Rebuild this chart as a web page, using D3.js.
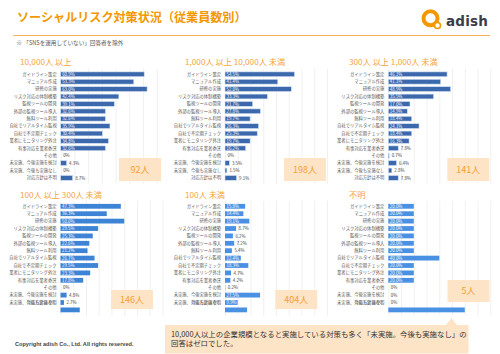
<!DOCTYPE html>
<html>
<head>
<meta charset="utf-8">
<script src="https://cdn.jsdelivr.net/npm/d3@7"></script>
<style>
  body { margin: 0; background: #fff; }
  svg { font-family: "Noto Sans CJK JP", "Noto Sans", sans-serif; display: block; }
</style>
</head>
<body>
<svg id="chart"></svg>
<script>
// Data
const categories = ["ガイドライン策定", "マニュアル作成", "研修の実施", "リスク対応の体制構築",
  "監視ツールの開発", "外部の監視ツール導入", "無料ツール利用", "自社でリアルタイム監視",
  "自社で不定期チェック", "業者にモニタリング外注", "有事対応を業者委託", "その他",
  "未実施、今後実施を検討", "未実施、今後も実施なし", "対応方針は不明"];

const panelTitles = ["10,000人 以上", "1,000人 以上 10,000人 未満", "300人 以上 1,000人 未満",
  "100人 以上 300人 未満", "100人 未満", "不明"];
const respondents = ["92人", "198人", "141人", "146人", "404人", "5人"];

const v10000 = [60.9, 53.3, 63.0, 42.4, 39.1, 32.6, 32.6, 35.9, 30.4, 34.8, 32.6, 0, 4.3, 0, 8.7];
const v1000 = [54.5, 41.4, 52.0, 33.3, 21.7, 27.8, 19.7, 26.3, 25.3, 19.7, 16.2, 0, 3.5, 1.5, 9.1];
const v300 = [46.1, 41.1, 48.9, 35.5, 17.0, 14.9, 18.4, 24.1, 18.4, 16.3, 7.8, 0.7, 6.4, 2.8, 7.8];
const v100 = [47.3, 36.3, 50.0, 29.5, 25.3, 22.6, 21.2, 26.7, 29.5, 23.3, 17.8, 0, 4.8, 2.7, 15.1];
const vUnder100 = [15.8, 14.4, 19.1, 8.7, 6.2, 7.2, 5.4, 12.4, 18.3, 4.7, 4.2, 0.2, 27.5, 9.9, 17.3];
const vUnknown = [20, 20, 20, 20, 20, 20, 20, 40, 20, 20, 20, 0, 0, 0, 60];

const axisMax = [70, 80, 80, 80, 80, 80];

const orange = "#f39800";
const W = 500, H = 354;

const svg = d3.select("#chart").attr("width", W).attr("height", H);

// Header
svg.append("text").attr("x", 17).attr("y", 22)
  .attr("font-size", 12.1).attr("font-weight", "bold").attr("fill", orange)
  .text("ソーシャルリスク対策状況（従業員数別）");

svg.append("line").attr("x1", 13).attr("x2", 490).attr("y1", 35.5).attr("y2", 35.5)
  .attr("stroke", "#f7b35c").attr("stroke-width", 1);

svg.append("text").attr("x", 16.5).attr("y", 45)
  .attr("font-size", 5.6).attr("fill", "#555")
  .text("※ 「SNSを運用していない」回答者を除外");

// logo
const logo = svg.append("g");
logo.append("circle").attr("cx", 430.5).attr("cy", 18.3).attr("r", 7)
  .attr("fill", "none").attr("stroke", orange).attr("stroke-width", 4);
logo.append("circle").attr("cx", 437.5).attr("cy", 25.5).attr("r", 3)
  .attr("fill", "#fff").attr("stroke", orange).attr("stroke-width", 1.6);
logo.append("text").attr("x", 446).attr("y", 25.5)
  .attr("font-size", 13.5).attr("font-weight", "bold").attr("fill", "#3d3d4a")
  .attr("font-family", "DejaVu Sans, sans-serif").attr("letter-spacing", 0.2)
  .text("adish");

// Panels
const panels = [
  {values: v10000, ax: 60.7, w: 96, top: 70.6, titleX: 20, titleY: 64.5, box: [119, 158, 42, 23], bottom: false, color: "#3c68ad"},
  {values: v1000, ax: 225, w: 102, top: 70.6, titleX: 185, titleY: 64.5, box: [284, 158, 42, 23], bottom: false, color: "#3c68ad"},
  {values: v300, ax: 388.3, w: 102, top: 70.6, titleX: 349, titleY: 64.5, box: [447.3, 158, 42, 23], bottom: false, color: "#3c68ad"},
  {values: v100, ax: 60.5, w: 102, top: 202.6, titleX: 20, titleY: 197.5, box: [111, 290, 42, 19], bottom: true, color: "#3e84d6"},
  {values: vUnder100, ax: 225, w: 102, top: 202.6, titleX: 185, titleY: 197.5, box: [275.3, 290, 42, 19], bottom: true, color: "#4a91e4"},
  {values: vUnknown, ax: 388.3, w: 102, top: 202.6, titleX: 349, titleY: 197.5, box: [447.5, 280, 42, 22], bottom: true, color: "#4a91e4"}
];

const fmt = v => v === 0 ? "0%" : d3.format(".1f")(v) + "%";

panels.forEach((p, i) => {
  const g = svg.append("g");
  const x = d3.scaleLinear().domain([0, axisMax[i]]).range([p.ax, p.ax + p.w]);
  const y = d3.scaleBand().domain(categories).range([p.top, p.top + 15 * 7.4]).paddingInner(0.35).paddingOuter(0.175);
  const data = categories.map((c, k) => ({name: c, value: p.values[k], idx: k}));

  // title
  g.append("text").attr("x", p.titleX).attr("y", p.titleY)
    .attr("font-size", 8.2).attr("fill", "#f5a43c").text(panelTitles[i]);

  // gridlines
  const grid = g.append("g")
    .attr("transform", `translate(0,${p.top + 15 * 7.4 + 2})`)
    .call(d3.axisBottom(x).tickValues(d3.range(0, axisMax[i] + 1, 10))
      .tickSize(-(15 * 7.4 + 4)).tickFormat(""));
  grid.select(".domain").remove();
  grid.selectAll("line").attr("stroke", "#e6e6e6").attr("stroke-width", 0.6);

  // respondent box
  g.append("rect").attr("x", p.box[0]).attr("y", p.box[1])
    .attr("width", p.box[2]).attr("height", p.box[3]).attr("fill", "#fde4c6");
  g.append("text").attr("x", p.box[0] + p.box[2] / 2).attr("y", p.box[1] + p.box[3] / 2 + 3.2)
    .attr("text-anchor", "middle").attr("font-size", 9).attr("fill", "#f5a033")
    .text(respondents[i]);

  // bars
  g.selectAll(".bar").data(data).enter().append("rect")
    .attr("class", "bar")
    .attr("x", x(0))
    .attr("y", d => y(d.name))
    .attr("width", d => Math.max(0, x(d.value) - x(0)))
    .attr("height", y.bandwidth())
    .attr("fill", p.color)
    .attr("stroke", d => d.value > 0 ? "#d3dff0" : "none")
    .attr("stroke-width", p.bottom ? 0 : 0.6);

  // value labels
  g.selectAll(".val").data(data.filter(d => !(p.bottom && d.idx === 14))).enter().append("text")
    .attr("class", "val")
    .attr("font-size", 4.4)
    .attr("y", d => y(d.name) + y.bandwidth() / 2 + 1.6)
    .attr("x", d => (x(d.value) - x(0)) >= 12 ? x(0) + 1.5 : x(d.value) + 2.5)
    .attr("fill", d => (x(d.value) - x(0)) >= 12 ? "#fff" : "#444")
    .text(d => fmt(d.value));

  // category labels
  const yAxis = g.append("g")
    .attr("transform", `translate(${p.ax - 4},0)`)
    .call(d3.axisLeft(y).tickSize(0).tickPadding(0));
  yAxis.select(".domain").remove();
  yAxis.selectAll("text").attr("font-size", 4.3).attr("fill", "#595959")
    .attr("font-family", "Noto Sans CJK JP, sans-serif");
  if (p.bottom) {
    // last label ends up drawn over the previous row
    yAxis.selectAll(".tick").filter(d => d === categories[14])
      .attr("transform", `translate(0,${y(categories[13]) + y.bandwidth() / 2})`);
  }
});

// callout
const callout = svg.append("g");
callout.append("rect").attr("x", 165).attr("y", 325).attr("width", 303.5).attr("height", 28.5)
  .attr("fill", "#fde4c6");
callout.append("path").attr("d", "M445.5,325.5 L451.5,318 L457.5,325.5 Z").attr("fill", "#fde4c6");
callout.append("text").attr("x", 171).attr("y", 336.8).attr("font-size", 7.4).attr("fill", "#333")
  .text("10,000人以上の企業規模となると実施している対策も多く「未実施。今後も実施なし」の");
callout.append("text").attr("x", 171).attr("y", 346.3).attr("font-size", 7.4).attr("fill", "#333")
  .text("回答はゼロでした。");

svg.append("text").attr("x", 15).attr("y", 345.8)
  .attr("font-size", 5.6).attr("font-weight", "bold").attr("fill", "#444")
  .attr("font-family", "Liberation Sans, Arial, sans-serif")
  .text("Copyright adish Co., Ltd. All rights reserved.");
</script>
</body>
</html>
